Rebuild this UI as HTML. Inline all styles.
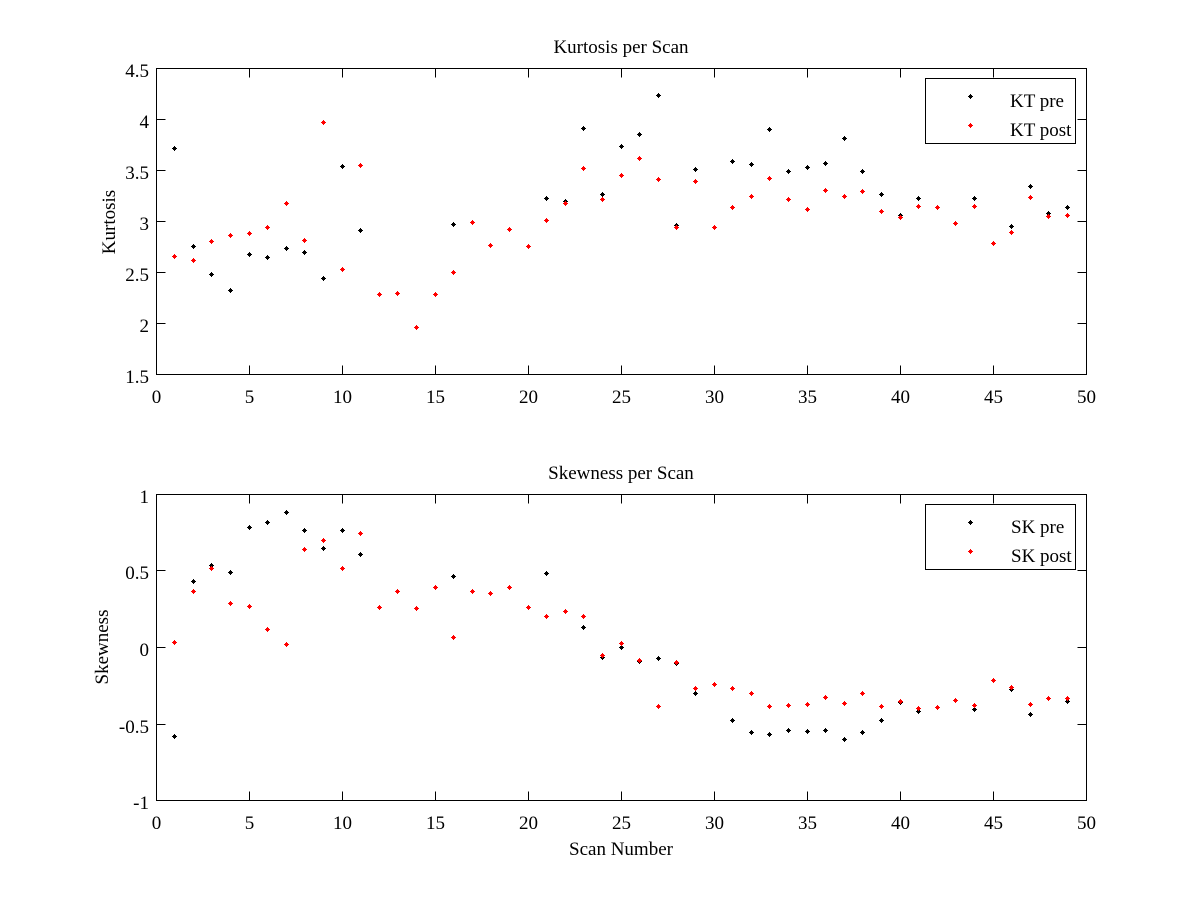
<!DOCTYPE html>
<html>
<head>
<meta charset="utf-8">
<style>
html,body{margin:0;padding:0;background:#fff;}
svg{display:block;}
text{font-family:"Liberation Serif","DejaVu Serif",serif;font-size:19px;fill:#000;}
</style>
</head>
<body>
<svg width="1200" height="900" viewBox="0 0 1200 900" xmlns="http://www.w3.org/2000/svg">
<defs>
<marker id="mb" markerUnits="userSpaceOnUse" markerWidth="7" markerHeight="7" refX="3.5" refY="3.5" viewBox="0 0 7 7" overflow="visible">
<path d="M1,3h5v1h-5z M3,1h1v5h-1z M2,2h3v3h-3z" fill="#000"/>
</marker>
<marker id="mr" markerUnits="userSpaceOnUse" markerWidth="7" markerHeight="7" refX="3.5" refY="3.5" viewBox="0 0 7 7" overflow="visible">
<path d="M1,3h5v1h-5z M3,1h1v5h-1z M2,2h3v3h-3z" fill="#ff0000"/>
</marker>
</defs>
<rect width="1200" height="900" fill="#fff"/>

<!-- TOP AXES -->
<g stroke="#000" stroke-width="1" fill="none" shape-rendering="crispEdges">
<rect x="156.5" y="68.5" width="930" height="306"/>
<path d="M249.5,374.5v-9M342.5,374.5v-9M435.5,374.5v-9M528.5,374.5v-9M621.5,374.5v-9M714.5,374.5v-9M807.5,374.5v-9M900.5,374.5v-9M993.5,374.5v-9M249.5,68.5v9M342.5,68.5v9M435.5,68.5v9M528.5,68.5v9M621.5,68.5v9M714.5,68.5v9M807.5,68.5v9M900.5,68.5v9M993.5,68.5v9"/>
<path d="M156.5,119.5h9M156.5,170.5h9M156.5,221.5h9M156.5,272.5h9M156.5,323.5h9M1086.5,119.5h-9M1086.5,170.5h-9M1086.5,221.5h-9M1086.5,272.5h-9M1086.5,323.5h-9"/>
</g>
<g text-anchor="end">
<text x="149" y="77">4.5</text>
<text x="149" y="128">4</text>
<text x="149" y="179">3.5</text>
<text x="149" y="230">3</text>
<text x="149" y="281">2.5</text>
<text x="149" y="332">2</text>
<text x="149" y="383">1.5</text>
</g>
<g text-anchor="middle">
<text x="156.5" y="403">0</text>
<text x="249.5" y="403">5</text>
<text x="342.5" y="403">10</text>
<text x="435.5" y="403">15</text>
<text x="528.5" y="403">20</text>
<text x="621.5" y="403">25</text>
<text x="714.5" y="403">30</text>
<text x="807.5" y="403">35</text>
<text x="900.5" y="403">40</text>
<text x="993.5" y="403">45</text>
<text x="1086.5" y="403">50</text>
<text x="621" y="53">Kurtosis per Scan</text>
<text transform="translate(115,222) rotate(-90)">Kurtosis</text>
</g>

<polyline fill="none" stroke="none" marker-start="url(#mb)" marker-mid="url(#mb)" marker-end="url(#mb)" points="174.5,148.5 193.5,246.5 211.5,274.5 230.5,290.5 249.5,254.5 267.5,257.5 286.5,248.5 304.5,252.5 323.5,278.5 342.5,166.5 360.5,230.5 379.5,294.5 397.5,293.5 416.5,327.5 435.5,294.5 453.5,224.5 472.5,222.5 490.5,245.5 509.5,229.5 528.5,246.5 546.5,198.5 565.5,201.5 583.5,128.5 602.5,194.5 621.5,146.5 639.5,134.5 658.5,95.5 676.5,225.5 695.5,169.5 714.5,227.5 732.5,161.5 751.5,164.5 769.5,129.5 788.5,171.5 807.5,167.5 825.5,163.5 844.5,138.5 862.5,171.5 881.5,194.5 900.5,215.5 918.5,198.5 937.5,207.5 955.5,223.5 974.5,198.5 993.5,243.5 1011.5,226.5 1030.5,186.5 1048.5,213.5 1067.5,207.5"/>
<polyline fill="none" stroke="none" marker-start="url(#mr)" marker-mid="url(#mr)" marker-end="url(#mr)" points="174.5,256.5 193.5,260.5 211.5,241.5 230.5,235.5 249.5,233.5 267.5,227.5 286.5,203.5 304.5,240.5 323.5,122.5 342.5,269.5 360.5,165.5 379.5,294.5 397.5,293.5 416.5,327.5 435.5,294.5 453.5,272.5 472.5,222.5 490.5,245.5 509.5,229.5 528.5,246.5 546.5,220.5 565.5,203.5 583.5,168.5 602.5,199.5 621.5,175.5 639.5,158.5 658.5,179.5 676.5,227.5 695.5,181.5 714.5,227.5 732.5,207.5 751.5,196.5 769.5,178.5 788.5,199.5 807.5,209.5 825.5,190.5 844.5,196.5 862.5,191.5 881.5,211.5 900.5,217.5 918.5,206.5 937.5,207.5 955.5,223.5 974.5,206.5 993.5,243.5 1011.5,232.5 1030.5,197.5 1048.5,216.5 1067.5,215.5"/>

<rect x="925.5" y="78.5" width="150" height="65" fill="#fff" stroke="#000" stroke-width="1" shape-rendering="crispEdges"/>
<path fill="#000" d="M968,96h5v1h-5z M970,94h1v5h-1z M969,95h3v3h-3z"/>
<path fill="#ff0000" d="M968,125h5v1h-5z M970,123h1v5h-1z M969,124h3v3h-3z"/>
<text x="1010" y="107">KT pre</text>
<text x="1010" y="136">KT post</text>

<!-- BOTTOM AXES -->
<g stroke="#000" stroke-width="1" fill="none" shape-rendering="crispEdges">
<rect x="156.5" y="494.5" width="930" height="306"/>
<path d="M249.5,800.5v-9M342.5,800.5v-9M435.5,800.5v-9M528.5,800.5v-9M621.5,800.5v-9M714.5,800.5v-9M807.5,800.5v-9M900.5,800.5v-9M993.5,800.5v-9M249.5,494.5v9M342.5,494.5v9M435.5,494.5v9M528.5,494.5v9M621.5,494.5v9M714.5,494.5v9M807.5,494.5v9M900.5,494.5v9M993.5,494.5v9"/>
<path d="M156.5,570.5h9M156.5,647.5h9M156.5,724.5h9M1086.5,570.5h-9M1086.5,647.5h-9M1086.5,724.5h-9"/>
</g>
<g text-anchor="end">
<text x="149" y="503">1</text>
<text x="149" y="579">0.5</text>
<text x="149" y="656">0</text>
<text x="149" y="733">-0.5</text>
<text x="149" y="809">-1</text>
</g>
<g text-anchor="middle">
<text x="156.5" y="829">0</text>
<text x="249.5" y="829">5</text>
<text x="342.5" y="829">10</text>
<text x="435.5" y="829">15</text>
<text x="528.5" y="829">20</text>
<text x="621.5" y="829">25</text>
<text x="714.5" y="829">30</text>
<text x="807.5" y="829">35</text>
<text x="900.5" y="829">40</text>
<text x="993.5" y="829">45</text>
<text x="1086.5" y="829">50</text>
<text x="621" y="479">Skewness per Scan</text>
<text x="621" y="855">Scan Number</text>
<text transform="translate(108,647) rotate(-90)">Skewness</text>
</g>

<polyline fill="none" stroke="none" marker-start="url(#mb)" marker-mid="url(#mb)" marker-end="url(#mb)" points="174.5,736.5 193.5,581.5 211.5,565.5 230.5,572.5 249.5,527.5 267.5,522.5 286.5,512.5 304.5,530.5 323.5,548.5 342.5,530.5 360.5,554.5 379.5,607.5 397.5,591.5 416.5,608.5 435.5,587.5 453.5,576.5 472.5,591.5 490.5,593.5 509.5,587.5 528.5,607.5 546.5,573.5 565.5,611.5 583.5,627.5 602.5,657.5 621.5,647.5 639.5,661.5 658.5,658.5 676.5,663.5 695.5,693.5 714.5,684.5 732.5,720.5 751.5,732.5 769.5,734.5 788.5,730.5 807.5,731.5 825.5,730.5 844.5,739.5 862.5,732.5 881.5,720.5 900.5,702.5 918.5,711.5 937.5,707.5 955.5,700.5 974.5,709.5 993.5,680.5 1011.5,689.5 1030.5,714.5 1048.5,698.5 1067.5,701.5"/>
<polyline fill="none" stroke="none" marker-start="url(#mr)" marker-mid="url(#mr)" marker-end="url(#mr)" points="174.5,642.5 193.5,591.5 211.5,568.5 230.5,603.5 249.5,606.5 267.5,629.5 286.5,644.5 304.5,549.5 323.5,540.5 342.5,568.5 360.5,533.5 379.5,607.5 397.5,591.5 416.5,608.5 435.5,587.5 453.5,637.5 472.5,591.5 490.5,593.5 509.5,587.5 528.5,607.5 546.5,616.5 565.5,611.5 583.5,616.5 602.5,655.5 621.5,643.5 639.5,660.5 658.5,706.5 676.5,662.5 695.5,688.5 714.5,684.5 732.5,688.5 751.5,693.5 769.5,706.5 788.5,705.5 807.5,704.5 825.5,697.5 844.5,703.5 862.5,693.5 881.5,706.5 900.5,701.5 918.5,708.5 937.5,707.5 955.5,700.5 974.5,705.5 993.5,680.5 1011.5,687.5 1030.5,704.5 1048.5,698.5 1067.5,698.5"/>

<rect x="925.5" y="504.5" width="150" height="65" fill="#fff" stroke="#000" stroke-width="1" shape-rendering="crispEdges"/>
<path fill="#000" d="M968,522h5v1h-5z M970,520h1v5h-1z M969,521h3v3h-3z"/>
<path fill="#ff0000" d="M968,551h5v1h-5z M970,549h1v5h-1z M969,550h3v3h-3z"/>
<text x="1011" y="533">SK pre</text>
<text x="1011" y="562">SK post</text>
</svg>
</body>
</html>
